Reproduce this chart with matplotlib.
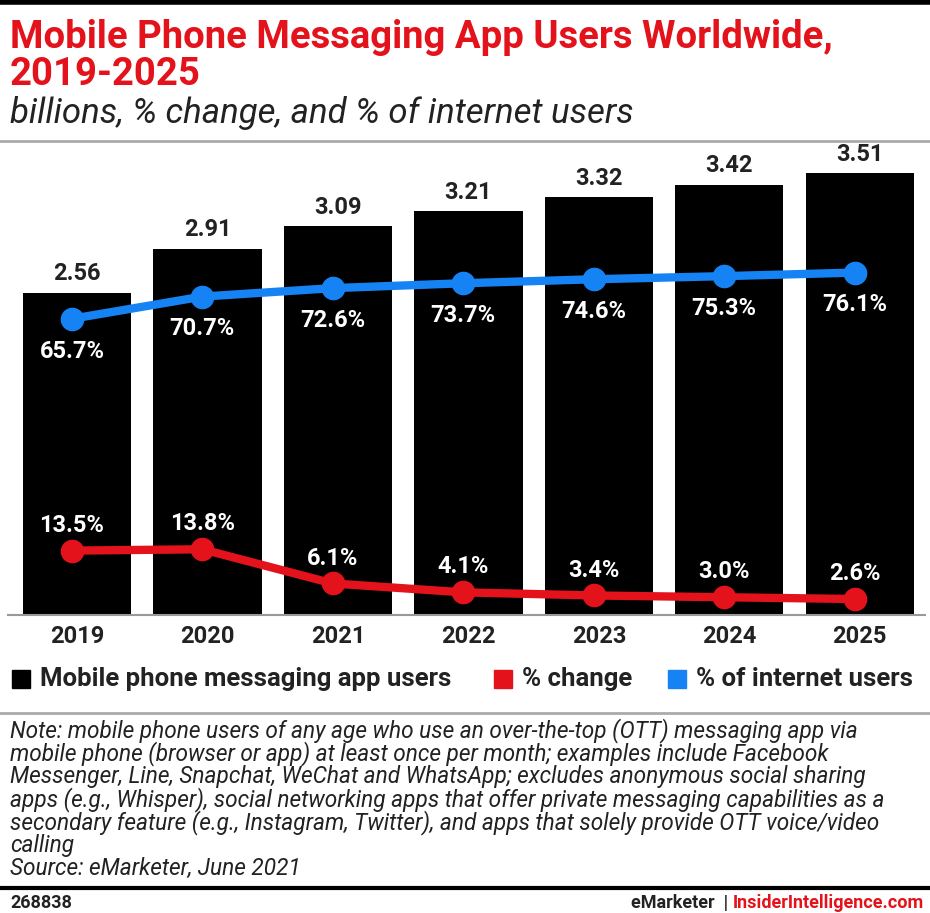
import numpy as np
import matplotlib
matplotlib.use("Agg")
import matplotlib.pyplot as plt
from matplotlib.lines import Line2D
from matplotlib.patches import Rectangle

years = ["2019", "2020", "2021", "2022", "2023", "2024", "2025"]
users_bn = [2.56, 2.91, 3.09, 3.21, 3.32, 3.42, 3.51]
pct_change = [13.5, 13.8, 6.1, 4.1, 3.4, 3.0, 2.6]
pct_internet = [65.7, 70.7, 72.6, 73.7, 74.6, 75.3, 76.1]

RED = "#e3121b"
BLUE = "#1683f5"
W, H = 930, 913

plt.rcParams['font.family'] = ['Roboto', 'DejaVu Sans']

fig = plt.figure(figsize=(W / 100, H / 100), dpi=100)

def fx(px):
    return px / W

def fy(py):
    return 1 - py / H

# axes placement (pixels)
ax_left, ax_right, ax_top, ax_bot = 8, 925, 162, 615
ax = fig.add_axes([fx(ax_left), fy(ax_bot), fx(ax_right - ax_left), (ax_bot - ax_top) / H])
x = np.arange(len(years))
ax.bar(x, users_bn, width=0.83, color="black", zorder=1)
ax.set_xlim(-0.53, 6.5)
ax.set_ylim(0, 3.6)
for xi, v in zip(x, users_bn):
    ax.text(xi, v + 0.06, f"{v:.2f}", ha="center", va="bottom", fontsize=17,
            fontweight="bold", color="#222222")
ax.set_xticks(x)
ax.set_xticklabels(years, fontsize=17, fontweight="bold", color="#222222")
ax.tick_params(axis="x", length=0, pad=7)
ax.set_yticks([])
for s in ["top", "right", "left"]:
    ax.spines[s].set_visible(False)
ax.spines["bottom"].set_color("#999999")
ax.spines["bottom"].set_linewidth(1.5)

ax2 = ax.twinx()
ax2.set_ylim(-1, 101)
xl = x - 0.04
ax2.plot(xl, pct_internet, color=BLUE, lw=6, marker="o", ms=16, zorder=3,
         solid_capstyle="round")
ax2.plot(xl, pct_change, color=RED, lw=6, marker="o", ms=16, zorder=3,
         solid_capstyle="round")
for xi, v in zip(xl, pct_internet):
    ax2.annotate(f"{v:.1f}%", (xi, v), xytext=(0, -15), textcoords="offset points",
                 ha="center", va="top", fontsize=17, fontweight="bold", color="white")
for xi, v in zip(xl, pct_change):
    ax2.annotate(f"{v:.1f}%", (xi, v), xytext=(0, 10), textcoords="offset points",
                 ha="center", va="bottom", fontsize=17, fontweight="bold", color="white")
ax2.set_yticks([])
for s in ["top", "right", "left", "bottom"]:
    ax2.spines[s].set_visible(False)

# title block
fig.add_artist(Line2D([0, 1], [fy(2), fy(2)], color="black", lw=4))
fig.text(fx(10), fy(38), "Mobile Phone Messaging App Users Worldwide,", color=RED,
         fontsize=27.5, fontweight="bold", va="center", ha="left")
fig.text(fx(10), fy(74), "2019-2025", color=RED, fontsize=27.5, fontweight="bold",
         va="center", ha="left")
fig.text(fx(10), fy(113), "billions, % change, and % of internet users", color="#222222",
         fontsize=25, style="italic", va="center", ha="left")
fig.add_artist(Line2D([0, 1], [fy(141), fy(141)], color="#aaaaaa", lw=2))

# legend
leg_y = 679
items = [(12, "black", "Mobile phone messaging app users"),
         (494, RED, "% change"),
         (668, BLUE, "% of internet users")]
for px, col, lab in items:
    fig.add_artist(Rectangle((fx(px), fy(leg_y + 9)), fx(18), 18 / H, color=col,
                             transform=fig.transFigure))
    fig.text(fx(px + 28), fy(leg_y), lab, fontsize=18.5, fontweight="bold",
             color="#222222", va="center", ha="left")

fig.add_artist(Line2D([0, 1], [fy(713), fy(713)], color="#aaaaaa", lw=2))

note_lines = [
    "Note: mobile phone users of any age who use an over-the-top (OTT) messaging app via",
    "mobile phone (browser or app) at least once per month; examples include Facebook",
    "Messenger, Line, Snapchat, WeChat and WhatsApp; excludes anonymous social sharing",
    "apps (e.g., Whisper), social networking apps that offer private messaging capabilities as a",
    "secondary feature (e.g., Instagram, Twitter), and apps that solely provide OTT voice/video",
    "calling",
    "Source: eMarketer, June 2021",
]
for i, line in enumerate(note_lines):
    fig.text(fx(10), fy(731 + i * 22.9), line, fontsize=16.3, style="italic",
             color="#222222", va="center", ha="left")

fig.add_artist(Line2D([0, 1], [fy(888), fy(888)], color="black", lw=3))
fig.text(fx(10), fy(903), "268838", fontsize=13, fontweight="bold", color="#222222",
         va="center", ha="left")
fig.text(fx(924), fy(903), "InsiderIntelligence.com", fontsize=13, fontweight="bold",
         color=RED, va="center", ha="right")
fig.text(fx(728), fy(903), "eMarketer  |", fontsize=13, fontweight="bold",
         color="#222222", va="center", ha="right")

fig.savefig("out.png", dpi=100)
